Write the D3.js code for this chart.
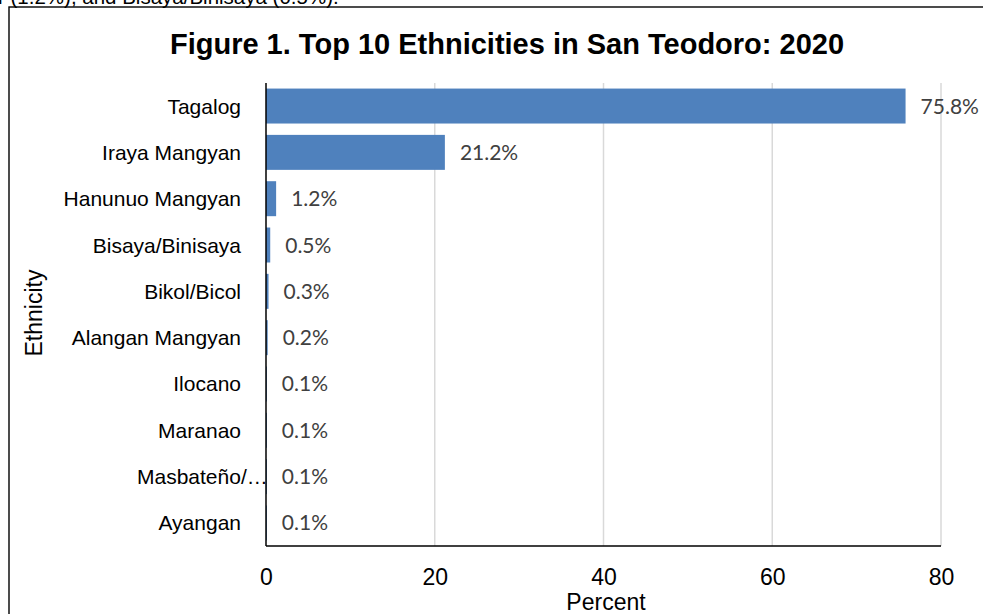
<!DOCTYPE html>
<html>
<head>
<meta charset="utf-8">
<script src="https://cdn.jsdelivr.net/npm/d3@7/dist/d3.min.js"></script>
<style>
html,body{margin:0;padding:0;background:#fff;overflow:hidden;}
svg{display:block;}
</style>
</head>
<body>
<svg id="chart" width="983" height="614"></svg>
<script>
const categories = ["Tagalog","Iraya Mangyan","Hanunuo Mangyan","Bisaya/Binisaya","Bikol/Bicol","Alangan Mangyan","Ilocano","Maranao","Masbateño/…","Ayangan"];
const values = [75.8, 21.2, 1.2, 0.5, 0.3, 0.2, 0.1, 0.1, 0.1, 0.1];
const valueLabels = ["75.8%","21.2%","1.2%","0.5%","0.3%","0.2%","0.1%","0.1%","0.1%","0.1%"];
const xTicks = [0, 20, 40, 60, 80];
const titleText = "Figure 1. Top 10 Ethnicities in San Teodoro: 2020";
const xTitle = "Percent";
const yTitle = "Ethnicity";
const topText = "r (1.2%), and Bisaya/Binisaya (0.5%).";

(function() {
const svg = d3.select("#chart");
const pLeft = 266, pRight = 941, pTop = 83, pBottom = 546;

// clipped paragraph text at top
svg.append("text").attr("x", -2).attr("y", 4)
  .attr("font-family", "Liberation Sans, Arial, sans-serif").attr("font-size", 20.5)
  .attr("fill", "#000").text(topText);

// frame
svg.append("rect").attr("x", 9).attr("y", 7).attr("width", 1000).attr("height", 700)
  .attr("fill", "none").attr("stroke", "#000").attr("stroke-width", 1.4);

const x = d3.scaleLinear().domain([0, 80]).range([pLeft, pRight]);
const y = d3.scaleBand().domain(categories).range([pTop, pBottom]).paddingInner(0.245).paddingOuter(0.12);

// gridlines
svg.append("g").selectAll("line").data(xTicks.filter(t => t > 0)).join("line")
  .attr("x1", d => x(d)).attr("x2", d => x(d)).attr("y1", pTop).attr("y2", pBottom)
  .attr("stroke", "#d9d9d9").attr("stroke-width", 1.5);

// bars
svg.append("g").selectAll("rect").data(values).join("rect")
  .attr("x", x(0)).attr("y", (d, i) => y(categories[i]))
  .attr("width", d => x(d) - x(0)).attr("height", y.bandwidth())
  .attr("fill", "#4F81BD");

// value labels
svg.append("g").selectAll("text").data(values).join("text")
  .attr("x", d => x(d) + 15).attr("y", (d, i) => y(categories[i]) + y.bandwidth() / 2 + 7.5)
  .attr("font-family", "Lato, sans-serif").attr("font-size", 21).attr("fill", "#404040")
  .text((d, i) => valueLabels[i]);

// x axis
const xAxis = d3.axisBottom(x).tickValues(xTicks).tickSize(0).tickPadding(0);
const gx = svg.append("g").attr("transform", `translate(0,${pBottom})`).call(xAxis);
gx.select(".domain").remove();
gx.selectAll("text").attr("dy", null).attr("y", 39)
  .attr("font-family", "Liberation Sans, Arial, sans-serif").attr("font-size", 23).attr("fill", "#000");
svg.append("line").attr("x1", pLeft).attr("x2", pRight).attr("y1", pBottom).attr("y2", pBottom)
  .attr("stroke", "#000").attr("stroke-width", 1.5);

// y axis
const yAxis = d3.axisLeft(y).tickSize(0).tickPadding(25);
const gy = svg.append("g").attr("transform", `translate(${pLeft},0)`).call(yAxis);
gy.select(".domain").remove();
gy.selectAll("text").attr("dy", null)
  .attr("y", 0).attr("dominant-baseline", "central")
  .attr("font-family", "Liberation Sans, Arial, sans-serif").attr("font-size", 21).attr("fill", "#000")
  .each(function(d) {
    if (d.endsWith("…")) { d3.select(this).attr("text-anchor", "start").attr("x", 137 - pLeft); }
  });
svg.append("line").attr("x1", pLeft).attr("x2", pLeft).attr("y1", pTop).attr("y2", pBottom)
  .attr("stroke", "#000").attr("stroke-width", 1.5);

// titles
svg.append("text").attr("x", 507).attr("y", 54).attr("text-anchor", "middle")
  .attr("font-family", "Liberation Sans, Arial, sans-serif").attr("font-size", 29).attr("font-weight", "bold")
  .attr("fill", "#000").text(titleText);
svg.append("text").attr("x", 606).attr("y", 610).attr("text-anchor", "middle")
  .attr("font-family", "Liberation Sans, Arial, sans-serif").attr("font-size", 23).attr("fill", "#000").text(xTitle);
svg.append("text").attr("transform", "translate(42,313) rotate(-90)").attr("text-anchor", "middle")
  .attr("font-family", "Liberation Sans, Arial, sans-serif").attr("font-size", 23).attr("fill", "#000").text(yTitle);
})();
</script>
</body>
</html>
